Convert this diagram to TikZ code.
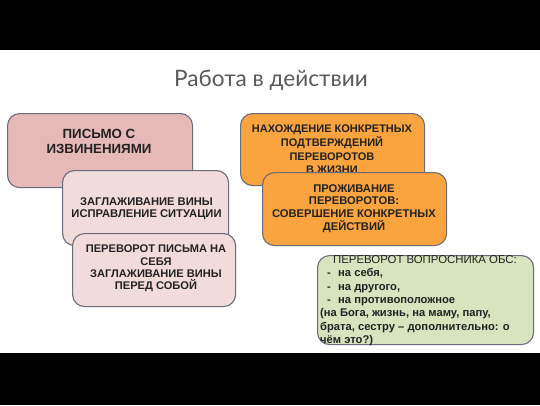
\documentclass[tikz,border=0pt]{standalone}
\usepackage{fontspec}
\setmainfont{Liberation Sans}
\newfontfamily\titlefont{Lato}
\definecolor{pinkA}{HTML}{E6B9B8}
\definecolor{pinkB}{HTML}{F2DCDB}
\definecolor{orangeA}{HTML}{F9A43E}
\definecolor{greenA}{HTML}{D7E4BD}
\definecolor{edgeC}{HTML}{6A6C7C}
\definecolor{txtC}{HTML}{222222}
\definecolor{titleC}{HTML}{5A5A5A}
\tikzset{
  card/.style={draw=edgeC, line width=1.1pt, rounded corners=12pt, anchor=north west, inner sep=0pt},
  cardtext/.style={align=center, text=txtC, inner sep=0pt, font=\bfseries\fontsize{11.2}{11.8}\selectfont},
}
\newcommand{\dashitem}{\makebox[18pt][l]{\hspace{7pt}-}}
\begin{document}
\begin{tikzpicture}[x=1pt,y=-1pt]
\useasboundingbox (0,0) rectangle (540,405);
\fill[white] (0,0) rectangle (540,405);
\fill[black] (0,0) rectangle (540,50);
\fill[black] (0,353) rectangle (540,405);
\node[anchor=base, text=titleC, inner sep=0pt, font=\titlefont\fontsize{22.6}{26}\selectfont] (title) at (271,86) {Работа в действии};
% left column
\node[card, fill=pinkA, minimum width=185pt, minimum height=74pt] (b1) at (7,113) {};
\node[cardtext, font=\bfseries\fontsize{13.3}{15}\selectfont] (t1) at (99,141.5) {ПИСЬМО С\\ИЗВИНЕНИЯМИ};
\node[card, fill=pinkB, minimum width=166pt, minimum height=75pt] (b2) at (62,170) {};
\node[cardtext] (t2) at (146.5,208.5) {ЗАГЛАЖИВАНИЕ ВИНЫ\\ИСПРАВЛЕНИЕ СИТУАЦИИ};
\node[card, fill=pinkB, minimum width=163pt, minimum height=73pt] (b3) at (72,233) {};
\node[cardtext, font=\bfseries\fontsize{11.1}{12.4}\selectfont] (t3) at (156,268.5) {ПЕРЕВОРОТ ПИСЬМА НА\\СЕБЯ\\ЗАГЛАЖИВАНИЕ ВИНЫ\\ПЕРЕД СОБОЙ};
% right column
\node[card, fill=orangeA, minimum width=184pt, minimum height=72pt] (b4) at (240,113) {};
\node[cardtext, font=\bfseries\fontsize{11}{13.7}\selectfont] (t4) at (332,149.5) {НАХОЖДЕНИЕ КОНКРЕТНЫХ\\ПОДТВЕРЖДЕНИЙ\\ПЕРЕВОРОТОВ\\В ЖИЗНИ};
\node[card, fill=orangeA, minimum width=184pt, minimum height=73pt] (b5) at (262,172) {};
\node[cardtext, font=\bfseries\fontsize{11.2}{12.8}\selectfont] (t5) at (354,208.5) {ПРОЖИВАНИЕ\\ПЕРЕВОРОТОВ:\\СОВЕРШЕНИЕ КОНКРЕТНЫХ\\ДЕЙСТВИЙ};
% green box
\node[card, fill=greenA, minimum width=216pt, minimum height=89pt] (b6) at (317,255) {};
\node[anchor=center, text=txtC, inner sep=0pt, font=\fontsize{11.4}{12}\selectfont] (t6h) at (425,259.5) {ПЕРЕВОРОТ ВОПРОСНИКА ОБС:};
\node[anchor=north west, align=left, text=txtC, inner sep=0pt, font=\bfseries\fontsize{11.2}{13.3}\selectfont] (t6) at (320,268.5) {\dashitem на себя,\\\dashitem на другого,\\\dashitem на противоположное\\(на Бога, жизнь, на маму, папу,\\брата, сестру – дополнительно: о\\чём это?)};
\end{tikzpicture}
\end{document}
